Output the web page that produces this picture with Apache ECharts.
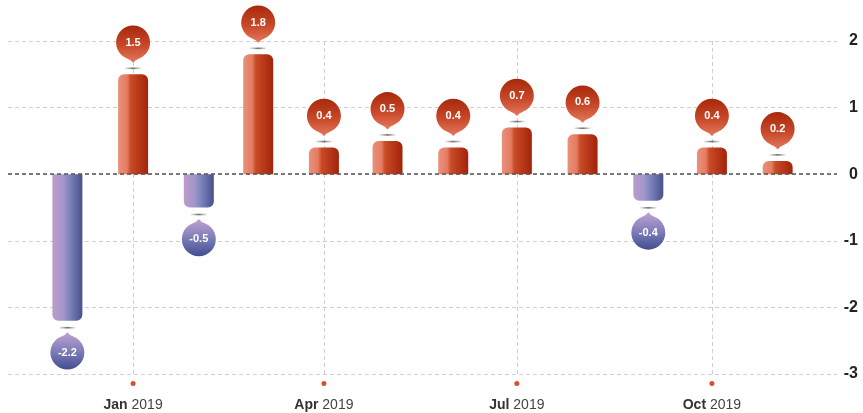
<!DOCTYPE html>
<html>
<head>
<meta charset="utf-8">
<script src="https://cdn.jsdelivr.net/npm/echarts@6/dist/echarts.min.js"></script>
<style>html,body{margin:0;padding:0;background:#fff}#c{width:863px;height:413px}</style>
</head>
<body>
<div id="c"></div>
<script>
// ---- data ----
var months = [[2018,11],[2019,0],[2019,1],[2019,2],[2019,3],[2019,4],[2019,5],[2019,6],[2019,7],[2019,8],[2019,9],[2019,10]];
var values = [-2.2, 1.5, -0.5, 1.8, 0.4, 0.5, 0.4, 0.7, 0.6, -0.4, 0.4, 0.2];
var tickMonths = [[2019,0],[2019,3],[2019,6],[2019,9]];
var monthNames = ['Jan','Feb','Mar','Apr','May','Jun','Jul','Aug','Sep','Oct','Nov','Dec'];
var xRange = [[2018,10,3],[2019,10,29]];
var yTicks = {min: -3, max: 2, interval: 1};

function ts(y, m, d) { return new Date(y, m, d || 1).getTime(); }
var tickValues = tickMonths.map(function (t) { return ts(t[0], t[1]); });

var posBar = {type:'linear',x:0,y:0,x2:1,y2:0,colorStops:[
  {offset:0,color:'#ea917b'},{offset:0.3,color:'#e47c62'},{offset:0.42,color:'#c94b27'},{offset:1,color:'#a3230a'}]};
var negBar = {type:'linear',x:0,y:0,x2:1,y2:0,colorStops:[
  {offset:0,color:'#bd9dcc'},{offset:0.35,color:'#a396c9'},{offset:0.55,color:'#7f86bd'},{offset:1,color:'#48508c'}]};
var posPin = {type:'linear',x:0,y:0,x2:0,y2:1,colorStops:[{offset:0,color:'#a8280b'},{offset:0.55,color:'#c84a2a'},{offset:1,color:'#e6785e'}]};
var negPin = {type:'linear',x:0,y:0,x2:0,y2:1,colorStops:[{offset:0,color:'#c4a0cf'},{offset:0.5,color:'#7e7fba'},{offset:1,color:'#434d90'}]};
var shadow = {type:'linear',x:0,y:0,x2:1,y2:0,colorStops:[
  {offset:0,color:'rgba(60,60,60,0)'},{offset:0.5,color:'rgba(60,60,60,0.75)'},{offset:1,color:'rgba(60,60,60,0)'}]};

var pinDown = 'path://M-6.5,15.7 Q-2,17.2 0,20.3 Q2,17.2 6.5,15.7 A17,17 0 1 0 -6.5,15.7 Z';
var pinUp = 'path://M-6.5,-15.7 Q-2,-17.2 0,-20.3 Q2,-17.2 6.5,-15.7 A17,17 0 1 1 -6.5,-15.7 Z';

var barData = values.map(function (v, i) {
  var pos = v >= 0;
  return {value: [ts(months[i][0], months[i][1]), v],
    itemStyle: {color: pos ? posBar : negBar, borderRadius: pos ? [6,6,0,0] : [0,0,6,6]}};
});
var pinData = values.map(function (v, i) {
  var pos = v >= 0;
  return {value: [ts(months[i][0], months[i][1]), v],
    symbol: pos ? pinDown : pinUp,
    symbolOffset: [0, pos ? -30.15 : 30.15],
    itemStyle: {color: pos ? posPin : negPin, opacity: 1},
    label: {show: true, position: [17, pos ? 17 : 20.3], align: 'center', verticalAlign: 'middle'}};
});
var shadowData = values.map(function (v, i) {
  var pos = v >= 0;
  return {value: [ts(months[i][0], months[i][1]), v], symbolOffset: [0, pos ? -6 : 7]};
});

var chart = echarts.init(document.getElementById('c'), null, {renderer: 'canvas'});
chart.setOption({
  animation: false,
  grid: {left: 8, right: 26, top: 41, bottom: 39, containLabel: false, outerBoundsMode: 'none'},
  xAxis: {
    type: 'value',
    min: ts(xRange[0][0], xRange[0][1], xRange[0][2]),
    max: ts(xRange[1][0], xRange[1][1], xRange[1][2]),
    axisLine: {show: false},
    axisTick: {show: false, customValues: tickValues},
    splitLine: {show: true, lineStyle: {color: '#cfcfcf', type: [4, 3], width: 1}},
    axisLabel: {
      customValues: tickValues,
      margin: 3,
      showMinLabel: true, showMaxLabel: true,
      formatter: function (val) {
        var d = new Date(val);
        return '{dot| }\n{m|' + monthNames[d.getMonth()] + '}{y| ' + d.getFullYear() + '}';
      },
      rich: {
        dot: {width: 5, height: 5, lineHeight: 13, backgroundColor: '#d4522a', borderRadius: 2.5},
        m: {fontFamily: 'Liberation Sans', fontWeight: 'bold', fontSize: 14, color: '#333', lineHeight: 30},
        y: {fontFamily: 'Liberation Sans', fontSize: 14, color: '#444', lineHeight: 30}
      }
    }
  },
  yAxis: {
    type: 'value', position: 'right',
    min: yTicks.min, max: yTicks.max, interval: yTicks.interval,
    axisLine: {show: false}, axisTick: {show: false},
    splitLine: {lineStyle: {color: '#cfcfcf', type: [4, 3], width: 1}},
    axisLabel: {align: 'right', margin: 21, fontFamily: 'Liberation Sans', fontWeight: 'bold', fontSize: 16, color: '#222'}
  },
  series: [
    {type: 'bar', data: barData, barWidth: 30, silent: true,
     markLine: {silent: true, symbol: ['none','none'], label: {show: false},
       lineStyle: {color: '#555', type: [4, 3], width: 1.5}, data: [{yAxis: 0}]}},
    {type: 'scatter', data: shadowData, symbol: 'rect', symbolSize: [18, 1.6], silent: true,
     itemStyle: {color: shadow, opacity: 1}},
    {type: 'scatter', data: pinData, symbolSize: [34, 37.3], silent: true, z: 5,
     labelLayout: {hideOverlap: false},
     label: {show: true, color: '#fff', fontFamily: 'Liberation Sans', fontWeight: 'bold', fontSize: 11,
       formatter: function (p) { return String(p.value[1]); }}}
  ]
});
</script>
</body>
</html>
